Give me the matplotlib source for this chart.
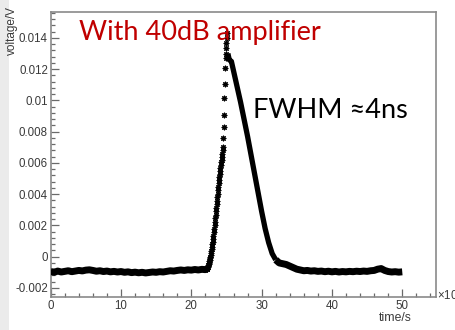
import matplotlib
matplotlib.use("Agg")
import matplotlib.pyplot as plt
from matplotlib.ticker import MultipleLocator, FixedLocator, FixedFormatter
from matplotlib.patches import Rectangle

# ---------------- data (time in ns, voltage in V) ----------------
t_base = [0.0, 0.5, 1.0, 1.5, 2.0, 2.5, 3.0, 3.5, 4.0, 4.5, 5.0, 5.5, 6.0, 6.5,
          7.0, 7.5, 8.0, 8.5, 9.0, 9.5, 10.0, 10.5, 11.0, 11.5, 12.0, 12.5,
          13.0, 13.5, 14.0, 14.5, 15.0, 15.5, 16.0, 16.5, 17.0, 17.5, 18.0,
          18.5, 19.0, 19.5, 20.0, 20.5, 21.0, 21.5, 22.0, 22.2]
v_base = [-0.00095, -0.00100, -0.00092, -0.00098, -0.00094, -0.00090, -0.00096,
          -0.00092, -0.00088, -0.00091, -0.00086, -0.00084, -0.00088, -0.00093,
          -0.00090, -0.00095, -0.00092, -0.00097, -0.00094, -0.00098, -0.00095,
          -0.00100, -0.00097, -0.00102, -0.00099, -0.00103, -0.00100, -0.00104,
          -0.00101, -0.00098, -0.00100, -0.00096, -0.00098, -0.00094, -0.00090,
          -0.00092, -0.00088, -0.00085, -0.00088, -0.00084, -0.00086, -0.00082,
          -0.00085, -0.00081, -0.00083, -0.00080]

t_rise = [22.20, 22.25, 22.30, 22.35, 22.40, 22.45, 22.50, 22.55, 22.60, 22.65,
          22.70, 22.75, 22.80, 22.85, 22.90, 22.95, 23.00, 23.05, 23.10, 23.15,
          23.20, 23.25, 23.30, 23.35, 23.40, 23.45, 23.50, 23.55, 23.60, 23.65,
          23.70, 23.75, 23.80, 23.85, 23.90, 23.95, 24.00, 24.05, 24.10, 24.15,
          24.20, 24.25, 24.30, 24.35, 24.40, 24.45, 24.50, 24.55, 24.60, 24.65,
          24.70, 24.75, 24.85, 24.90, 24.95, 25.00, 25.00, 25.05, 25.05]
v_rise = [-0.00080, -0.00076, -0.00070, -0.00063, -0.00055, -0.00048, -0.00040,
          -0.00030, -0.00020, -0.00010, 0.00000, 0.00012, 0.00025, 0.00037,
          0.00050, 0.00065, 0.00080, 0.00097, 0.00115, 0.00135, 0.00155, 0.00177,
          0.00200, 0.00222, 0.00245, 0.00267, 0.00290, 0.00312, 0.00335, 0.00357,
          0.00380, 0.00402, 0.00425, 0.00447, 0.00470, 0.00490, 0.00510, 0.00530,
          0.00550, 0.00568, 0.00585, 0.00603, 0.00620, 0.00640, 0.00660, 0.00680,
          0.00700, 0.00760, 0.00830, 0.00910, 0.01015, 0.01105, 0.01210, 0.01270,
          0.01300, 0.01335, 0.01365, 0.01400, 0.01430]

t_fall = [25.2, 25.4, 25.7, 26.0, 26.5, 27.0, 27.5, 28.0, 28.5, 29.0, 29.5, 30.0,
          30.5, 31.0, 31.5, 32.0]
v_fall = [0.0130, 0.0126, 0.0125, 0.0119, 0.0109, 0.0099, 0.0088, 0.0077, 0.0065,
          0.0053, 0.0041, 0.0029, 0.0018, 0.0009, 0.0002, -0.0002]

t_tail = [32.0, 32.5, 33.0, 33.5, 34.0, 34.5, 35.0, 35.5, 36.0, 36.5, 37.0, 37.5,
          38.0, 38.5, 39.0, 39.5, 40.0, 40.5, 41.0, 41.5, 42.0, 42.5, 43.0, 43.5,
          44.0, 44.5, 45.0, 45.5, 46.0, 46.5, 47.0, 47.5, 48.0, 48.5, 49.0, 49.5,
          50.0]
v_tail = [-0.00020, -0.00040, -0.00045, -0.00050, -0.00060, -0.00070, -0.00080,
          -0.00085, -0.00090, -0.00088, -0.00092, -0.00090, -0.00094, -0.00092,
          -0.00096, -0.00093, -0.00097, -0.00094, -0.00098, -0.00095, -0.00097,
          -0.00094, -0.00096, -0.00093, -0.00095, -0.00092, -0.00094, -0.00090,
          -0.00088, -0.00080, -0.00076, -0.00088, -0.00095, -0.00098, -0.00096,
          -0.00099, -0.00097]

y_ticks = [-0.002, 0.0, 0.002, 0.004, 0.006, 0.008, 0.010, 0.012, 0.014]
y_labels = ["-0.002", "0", "0.002", "0.004", "0.006", "0.008", "0.01", "0.012", "0.014"]
x_ticks = [0, 10, 20, 30, 40, 50]
x_labels = ["0", "10", "20", "30", "40", "50"]

# ---------------- figure ----------------
W, H = 456, 330
fig = plt.figure(figsize=(W / 100, H / 100), dpi=100)
fig.patch.set_facecolor("white")
fig.patches.append(Rectangle((0, 0), 9 / W, 1, transform=fig.transFigure,
                             facecolor="#ebebeb", edgecolor="none", zorder=-5))

L, R, T, B = 50.7, 436, 12, 297
ax = fig.add_axes([L / W, 1 - B / H, (R - L) / W, (B - T) / H])
ax.set_xlim(0, 54.8)
ax.set_ylim(-0.00258, 0.01566)

ink = "black"
ax.plot(t_base, v_base, color=ink, lw=5.0, solid_capstyle="butt", zorder=3)
ax.plot(t_tail, v_tail, color=ink, lw=5.0, solid_capstyle="butt", zorder=3)
ax.plot(t_fall, v_fall, color=ink, lw=3.8, solid_capstyle="butt", zorder=3)
ax.plot(t_rise, v_rise, linestyle="none", marker=(8, 2, 0), ms=4.0, mew=0.8,
        color=ink, zorder=4)

for s in ax.spines.values():
    s.set_color("#8a8a8a")
    s.set_linewidth(1.2)

ax.xaxis.set_major_locator(FixedLocator(x_ticks))
ax.xaxis.set_major_formatter(FixedFormatter(x_labels))
ax.xaxis.set_minor_locator(MultipleLocator(2))
ax.yaxis.set_major_locator(FixedLocator(y_ticks))
ax.yaxis.set_major_formatter(FixedFormatter(y_labels))
ax.yaxis.set_minor_locator(MultipleLocator(0.0004))

ax.tick_params(which="both", direction="in", top=False, right=False,
               color="#6a6a6a", width=0.9)
ax.tick_params(which="major", length=6, labelsize=8.3, labelcolor="#3a3a3a", pad=2)
ax.tick_params(which="minor", length=3)

for lab in ax.get_xticklabels() + ax.get_yticklabels():
    lab.set_family("Liberation Sans")

# axis titles (ROOT style: at the end of the axes)
fig.text(12 / W, 1 - 6 / H, "voltage/V", rotation=90, ha="center", va="top",
         fontsize=8.5, color="#3a3a3a", family="Liberation Sans")
fig.text(412 / W, 1 - 318 / H, "time/s", ha="right", va="center",
         fontsize=8.8, color="#3a3a3a", family="Liberation Sans")
fig.text(437 / W, 1 - 295 / H, "\u00d710$^{-9}$", ha="left", va="center",
         fontsize=8.3, color="#3a3a3a", family="Liberation Sans")

# annotations
fig.text(79 / W, 1 - 40 / H, "With 40dB amplifier", ha="left", va="baseline",
         fontsize=19.5, color="#c00000", family="Lato")
fig.text(252.7 / W, 1 - 118 / H, "FWHM \u22484ns", ha="left", va="baseline",
         fontsize=19.5, color="black", family="Lato")

fig.savefig("out.png", dpi=100)
